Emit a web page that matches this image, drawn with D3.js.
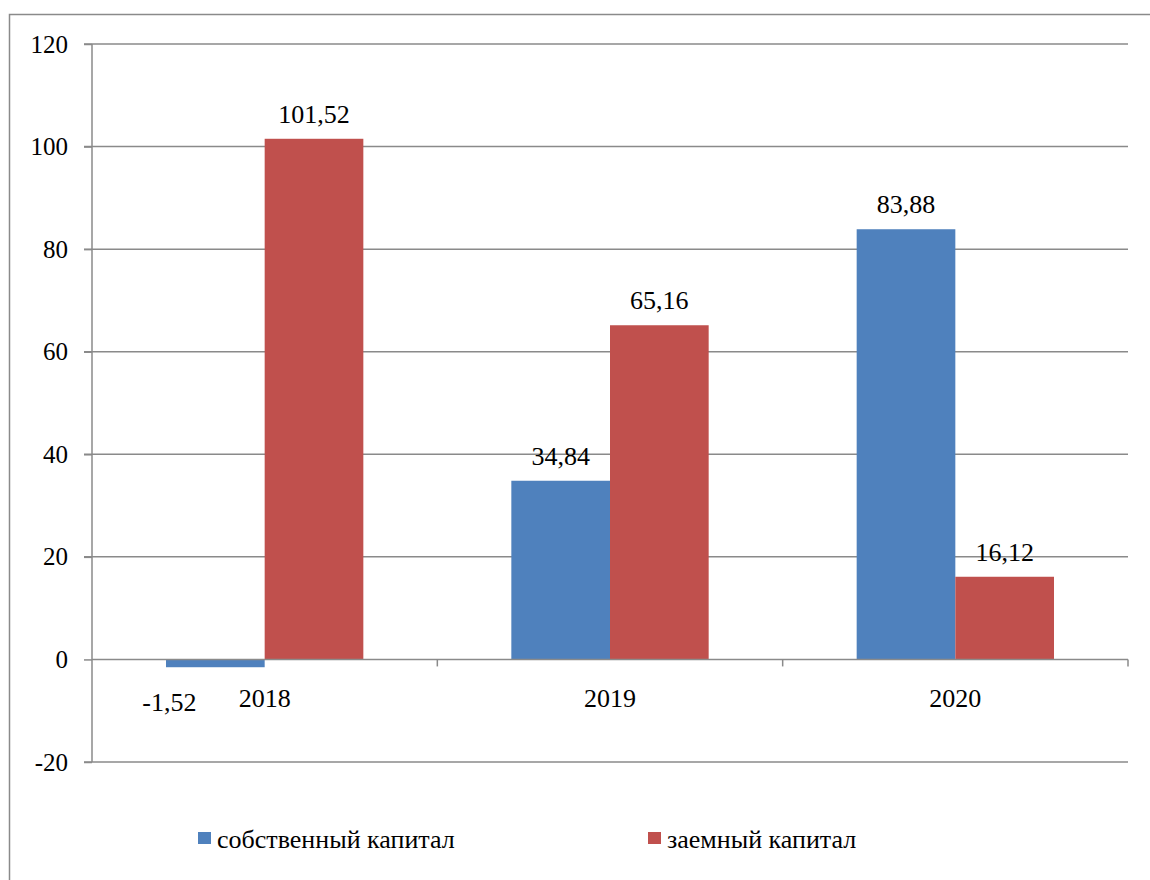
<!DOCTYPE html>
<html>
  <head>
    <meta charset="utf-8">
    <title>chart</title>
  </head>
  <body style="margin:0">
    <div class="container"></div>
    <script src="https://cdnjs.cloudflare.com/ajax/libs/d3/7.8.5/d3.min.js" charset="utf-8"></script>
    <script type="text/javascript">
    var years = ["2018", "2019", "2020"];
    var seriesNames = ["собственный капитал", "заемный капитал"];
    var ownCapital = [-1.52, 34.84, 83.88];
    var debtCapital = [101.52, 65.16, 16.12];
    var yTicks = [-20, 0, 20, 40, 60, 80, 100, 120];
    var colors = ["#4f81bd", "#c0504d"];

    var width = 1150;
    var height = 880;
    var lineColor = "#8a8a8a";

    var svg = d3.select(".container")
        .append("svg")
        .attr("width", width)
        .attr("height", height);

    // рамка вокруг диаграммы
    svg.append("rect")
        .attr("x", 9.5)
        .attr("y", 14.5)
        .attr("width", 1200)
        .attr("height", 1000)
        .attr("fill", "none")
        .attr("stroke", lineColor)
        .attr("stroke-width", 1.5);

    var plot = { left: 92, right: 1128, top: 44, bottom: 762 };

    var x = d3.scaleBand()
        .domain(years)
        .range([plot.left, plot.right]);

    var xInner = d3.scaleBand()
        .domain(seriesNames)
        .range([0, x.bandwidth()])
        .paddingOuter(0.75);

    var y = d3.scaleLinear()
        .domain([-20, 120])
        .range([plot.bottom, plot.top]);

    function fmt(v) {
      return v.toFixed(2).replace(".", ",");
    }

    // сетка
    svg.append("g")
        .selectAll("line")
        .data(yTicks.filter(function(d) { return d !== 0; }))
        .enter()
        .append("line")
        .attr("x1", plot.left - 8)
        .attr("x2", plot.right)
        .attr("y1", function(d) { return y(d); })
        .attr("y2", function(d) { return y(d); })
        .attr("stroke", lineColor)
        .attr("stroke-width", 1.5);

    // ось Y
    var yAxis = d3.axisLeft(y)
        .tickValues(yTicks)
        .tickSize(8)
        .tickPadding(16)
        .tickFormat(function(d) { return String(d); });

    var gy = svg.append("g")
        .attr("transform", "translate(" + plot.left + ",0)")
        .call(yAxis);
    gy.select(".domain")
        .attr("d", "M0," + plot.top + "V" + plot.bottom)
        .attr("stroke", lineColor)
        .attr("stroke-width", 1.5);
    gy.selectAll("line").attr("stroke", lineColor).attr("stroke-width", 1.5);
    gy.selectAll("text")
        .attr("font-size", 25)
        .attr("fill", "#000")
        .style("font-family", "'Liberation Serif'");

    // столбцы
    var rows = years.map(function(yr, i) {
      return { year: yr, values: [ownCapital[i], debtCapital[i]] };
    });

    var groups = svg.selectAll(".group")
        .data(rows)
        .enter()
        .append("g")
        .attr("class", "group")
        .attr("transform", function(d) {
          return "translate(" + x(d.year) + ",0)";
        });

    groups.selectAll("rect")
        .data(function(d) {
          return d.values.map(function(v, j) { return { name: seriesNames[j], value: v, idx: j }; });
        })
        .enter()
        .append("rect")
        .attr("x", function(d) { return xInner(d.name); })
        .attr("width", xInner.bandwidth())
        .attr("y", function(d) { return y(Math.max(0, d.value)); })
        .attr("height", function(d) { return Math.abs(y(d.value) - y(0)); })
        .attr("fill", function(d) { return colors[d.idx]; });

    groups.selectAll(".label")
        .data(function(d) {
          return d.values.map(function(v, j) { return { name: seriesNames[j], value: v }; });
        })
        .enter()
        .append("text")
        .attr("class", "label")
        .attr("text-anchor", "middle")
        .attr("x", function(d) {
          var cx = xInner(d.name) + xInner.bandwidth() / 2;
          return d.value < 0 ? cx - 46 : cx;
        })
        .attr("y", function(d) {
          return d.value < 0 ? y(0) + 52 : y(d.value) - 16;
        })
        .attr("font-size", 26)
        .style("font-family", "'Liberation Serif'")
        .text(function(d) { return fmt(d.value); });

    // ось X на нуле
    var xAxis = d3.axisBottom(x)
        .tickSize(0)
        .tickPadding(29);

    var gx = svg.append("g")
        .attr("transform", "translate(0," + y(0) + ")")
        .call(xAxis);
    gx.select(".domain")
        .attr("d", "M" + plot.left + ",0H" + plot.right)
        .attr("stroke", lineColor)
        .attr("stroke-width", 1.5);
    gx.selectAll("text")
        .attr("font-size", 26)
        .attr("fill", "#000")
        .style("font-family", "'Liberation Serif'");

    gx.selectAll(".sep")
        .data(years)
        .enter()
        .append("line")
        .attr("class", "sep")
        .attr("x1", function(d) { return x(d) + x.bandwidth(); })
        .attr("x2", function(d) { return x(d) + x.bandwidth(); })
        .attr("y1", 0)
        .attr("y2", 7)
        .attr("stroke", lineColor)
        .attr("stroke-width", 1.5);

    // легенда
    var legendX = [198, 648];
    var legend = svg.selectAll(".legend")
        .data(seriesNames)
        .enter()
        .append("g")
        .attr("class", "legend")
        .attr("transform", function(d, i) {
          return "translate(" + legendX[i] + ",832)";
        });

    legend.append("rect")
        .attr("width", 13)
        .attr("height", 12)
        .attr("fill", function(d, i) { return colors[i]; });

    legend.append("text")
        .attr("x", 19)
        .attr("y", 16)
        .attr("font-size", 26)
        .style("font-family", "'Liberation Serif'")
        .text(function(d) { return d; });
    </script>
  </body>
</html>
